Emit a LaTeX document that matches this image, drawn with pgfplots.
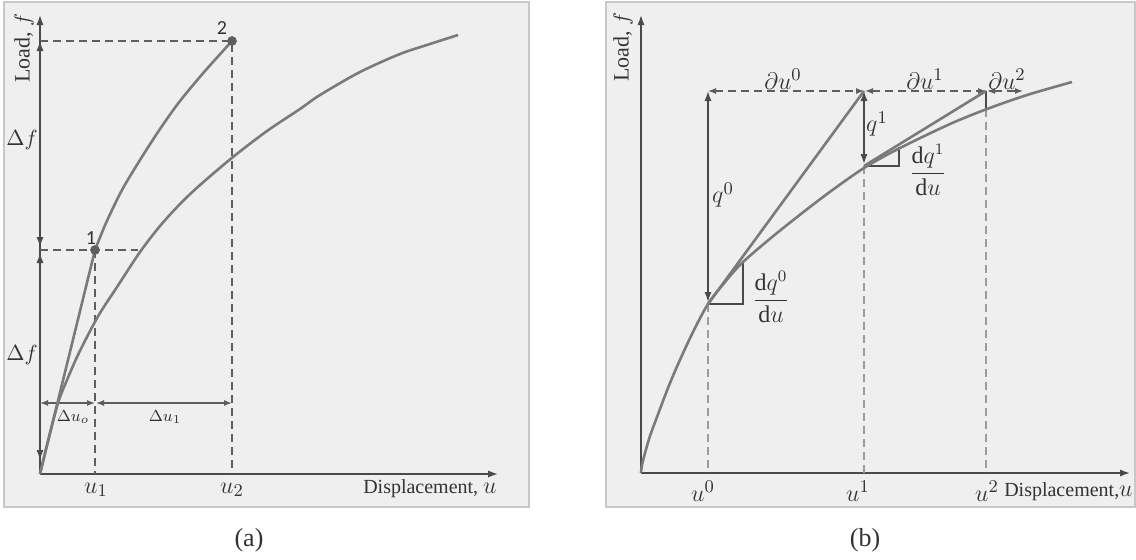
\documentclass[border=0pt]{standalone}
\usepackage{amsmath}
\usepackage{pgfplots}
\pgfplotsset{compat=1.18}
\usepackage{fontspec}
\setmainfont{Liberation Serif}
\newfontfamily\numfont{Carlito}
\usetikzlibrary{arrows.meta}

\definecolor{framebg}{HTML}{EFEFEF}
\definecolor{frameline}{HTML}{C8C8C8}
\definecolor{curvec}{HTML}{7A7A7A}
\definecolor{axisc}{HTML}{4A4A4A}
\definecolor{dashc}{HTML}{5E5E5E}
\definecolor{lightdash}{HTML}{9C9C9C}
\definecolor{txt}{HTML}{333333}

\pgfplotsset{
  panel/.style={
    x=0.5pt, y=0.5pt,
    anchor=south west,
    axis line style={frameline, line width=0.7pt},
    axis background/.style={fill=framebg},
    xtick=\empty, ytick=\empty,
    clip=false,
  },
}
\tikzset{
  tip/.style={-{Latex[length=5pt,width=3.6pt]}},
  dbl/.style={{Latex[length=5pt,width=3.6pt]}-{Latex[length=5pt,width=3.6pt]}},
  sdbl/.style={{Latex[length=4pt,width=3pt]}-{Latex[length=4pt,width=3pt]}},
  crv/.style={curvec, line width=1.3pt},
  dsh/.style={dashc, line width=0.6pt, dash pattern=on 4pt off 2.5pt},
  ldsh/.style={lightdash, line width=0.6pt, dash pattern=on 4pt off 2.5pt},
  lab/.style={txt, inner sep=0pt},
}
\newcommand{\symsize}{\fontsize{13}{15}\selectfont}
\newcommand{\labsize}{\fontsize{11}{13}\selectfont}

\begin{document}
\begin{tikzpicture}
\path[use as bounding box] (0,0) rectangle (568pt,279.5pt);

% ---------------- (a) incremental loading ----------------
\begin{axis}[panel, at={(2pt,26pt)}, xmin=-36, xmax=489, ymin=-33, ymax=472]
  % coordinate axes
  \draw[axisc, line width=0.8pt, tip] (0,0) -- (0,459);
  \draw[axisc, line width=0.8pt, tip] (0,0) -- (458,0);
  % guide lines
  \draw[dsh] (0,433) -- (192,433) -- (192,0);
  \draw[dsh] (0,224) -- (98,224);
  \draw[dsh] (55,224) -- (55,0);
  % load steps
  \draw[axisc, line width=0.8pt, dbl] (0,433) -- (0,227);
  \draw[axisc, line width=0.8pt, dbl] (0,221) -- (0,14);
  % displacement increments
  \draw[dashc, line width=0.6pt, sdbl] (0,71) -- (55,71);
  \draw[dashc, line width=0.6pt, sdbl] (56,71) -- (192,71);
  % equilibrium path
  \addplot[crv, smooth, tension=0.5] coordinates {
    (0,0) (7,29) (18,71) (27,94) (37,117) (48,139) (60,161) (77,187)
    (100,222) (120,248) (140,270) (160,289) (193,317) (227,343)
    (260,365) (280,379) (320,402) (360,420) (390,430) (418,439)};
  % incremental solution
  \addplot[crv, smooth, tension=0.5] coordinates {
    (0,0) (28,114) (55,224)};
  \addplot[crv, smooth, tension=0.5] coordinates {
    (55,224) (66,251) (82,284) (100,314) (120,345) (140,373) (165,403) (192,433)};
  \addplot[only marks, mark=*, mark size=2.2pt, color=dashc] coordinates {
    (55,224) (192,433)};
  % labels
  \node[lab, font=\numfont\fontsize{10}{12}\selectfont] at (51,236) {1};
  \node[lab, font=\numfont\fontsize{10}{12}\selectfont] at (182,446) {2};
  \node[lab, rotate=90, font=\labsize] at (-16,426) {Load, $f$};
  \node[lab, font=\labsize] at (-18,334) {$\Delta f$};
  \node[lab, font=\labsize] at (-18,119) {$\Delta f$};
  \node[lab, font=\fontsize{8.5}{10}\selectfont] at (33,57) {$\Delta u_{o}$};
  \node[lab, font=\fontsize{8.5}{10}\selectfont] at (125,57) {$\Delta u_{1}$};
  \node[lab, font=\symsize] at (56,-16) {$u_1$};
  \node[lab, font=\symsize] at (192,-16) {$u_2$};
  \node[lab, anchor=east, font=\fontsize{10}{12}\selectfont] at (457,-15) {Displacement, {\symsize$u$}};
  \node[lab, font=\fontsize{13}{15}\selectfont] at (209,-66) {(a)};
\end{axis}

% ---------------- (b) Newton--Raphson iterations ----------------
\begin{axis}[panel, at={(303pt,26pt)}, xmin=-35, xmax=494, ymin=-34, ymax=471]
  % coordinate axes
  \draw[axisc, line width=0.8pt, tip] (0,0) -- (0,458);
  \draw[axisc, line width=0.8pt, tip] (0,0) -- (489,0);
  % guide lines
  \draw[ldsh] (67,169) -- (67,0);
  \draw[ldsh] (223,307) -- (223,0);
  \draw[ldsh] (345,364) -- (345,0);
  \draw[dsh, sdbl] (67,382) -- (223,382);
  \draw[dsh, sdbl] (224,382) -- (345,382);
  \draw[dsh, sdbl] (346,382) -- (382,382);
  % out-of-balance loads
  \draw[axisc, line width=0.8pt, dbl] (67,382) -- (67,171);
  \draw[axisc, line width=0.8pt, dbl] (223,382) -- (223,309);
  \draw[axisc, line width=0.8pt] (345,382) -- (345,364);
  % tangent triangles
  \draw[axisc, line width=0.6pt] (67,169) -- (102,169) -- (102,211);
  \draw[axisc, line width=0.6pt] (223,307) -- (258,307) -- (258,326);
  % equilibrium path
  \addplot[crv, smooth, tension=0.5] coordinates {
    (0,0) (1,8) (4,20) (9,37) (16,56) (27,85) (38,111) (52,141) (67,169)
    (84,191) (102,211) (136,240) (182,276) (223,305) (259,325) (309,349)
    (346,364) (386,378) (431,391)};
  % tangent predictors
  \addplot[crv] coordinates {(67,169) (223,382)};
  \addplot[crv] coordinates {(223,307) (345,382)};
  % labels
  \node[lab, rotate=90, font=\labsize] at (-18,426) {Load, $f$};
  \node[lab, font=\symsize] at (142,394) {$\partial u^{0}$};
  \node[lab, font=\symsize] at (284,394) {$\partial u^{1}$};
  \node[lab, font=\symsize] at (366,394) {$\partial u^{2}$};
  \node[lab, font=\symsize] at (82,278) {$q^{0}$};
  \node[lab, font=\symsize] at (236,349) {$q^{1}$};
  \node[lab, font=\fontsize{12}{14}\selectfont] at (130,176) {$\dfrac{\mathrm{d}q^{0}}{\mathrm{d}u}$};
  \node[lab, font=\fontsize{12}{14}\selectfont] at (287,303) {$\dfrac{\mathrm{d}q^{1}}{\mathrm{d}u}$};
  \node[lab, font=\symsize] at (62,-18) {$u^{0}$};
  \node[lab, font=\symsize] at (217,-18) {$u^{1}$};
  \node[lab, font=\symsize] at (346,-18) {$u^{2}$};
  \node[lab, anchor=east, font=\fontsize{10}{12}\selectfont] at (492,-19) {Displacement,{\symsize$u$}};
  \node[lab, font=\fontsize{13}{15}\selectfont] at (224,-67) {(b)};
\end{axis}
\end{tikzpicture}
\end{document}
